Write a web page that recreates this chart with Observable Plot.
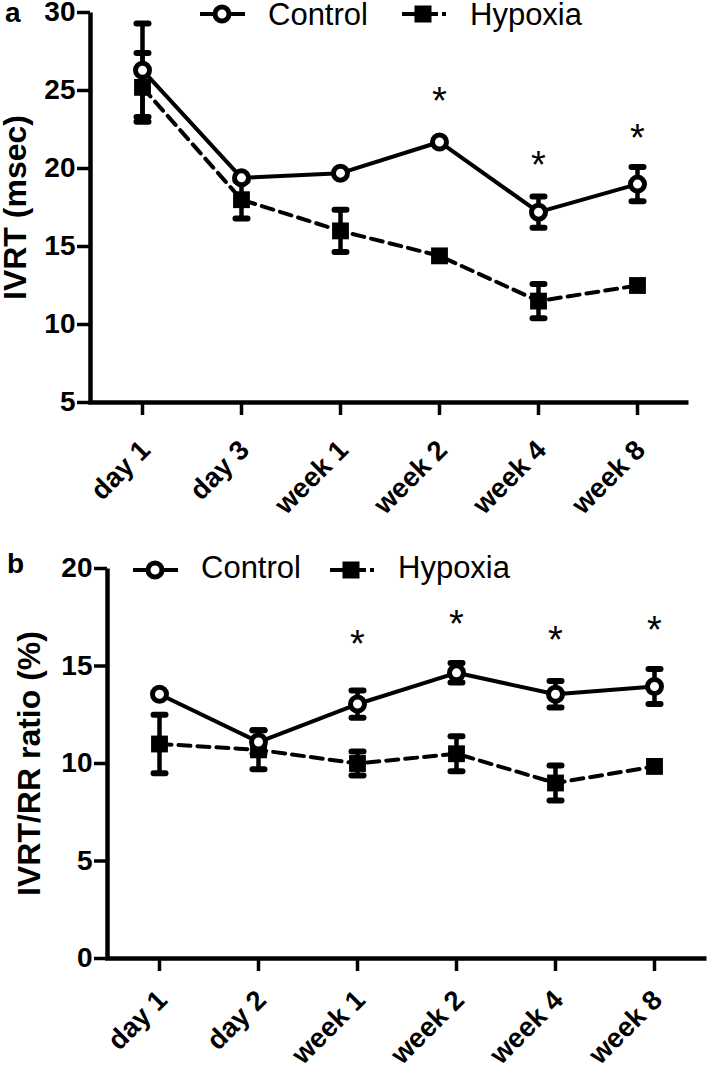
<!DOCTYPE html>
<html><head><meta charset="utf-8">
<script src="https://cdn.jsdelivr.net/npm/d3@7"></script>
<script src="https://cdn.jsdelivr.net/npm/@observablehq/plot@0.6"></script>
<style>
body{margin:0;background:#fff;font-family:"Liberation Sans",Arial,sans-serif;}
#page{position:relative;width:709px;height:1067px;overflow:hidden;background:#fff;}
.panel{position:absolute;left:0;}
.legend{position:absolute;left:0;pointer-events:none;}
</style></head><body><div id="page"></div>
<script>
// ---- Panel a: IVRT (msec)
const timepointsA = ["day 1", "day 3", "week 1", "week 2", "week 4", "week 8"];
const controlA    = [26.3, 19.4, 19.7, 21.7, 17.2, 19.0];
const controlErrA = [3.0, 0, 0, 0, 1.0, 1.1];
const hypoxiaA    = [25.2, 18.0, 16.0, 14.4, 11.5, 12.5];
const hypoxiaErrA = [2.2, 1.2, 1.35, 0, 1.1, 0];
const starA       = [null, null, null, 24.9, 20.8, 22.5];
const yTicksA     = [5, 10, 15, 20, 25, 30];
const yLabelA     = "IVRT (msec)";

// ---- Panel b: IVRT/RR ratio (%)
const timepointsB = ["day 1", "day 2", "week 1", "week 2", "week 4", "week 8"];
const controlB    = [13.55, 11.1, 13.05, 14.65, 13.55, 13.95];
const controlErrB = [0, 0.6, 0.7, 0.5, 0.68, 0.9];
const hypoxiaB    = [11.0, 10.7, 10.0, 10.5, 9.0, 9.85];
const hypoxiaErrB = [1.5, 1.0, 0.62, 0.9, 0.9, 0];
const starB       = [null, null, 16.6, 17.6, 16.8, 17.3];
const yTicksB     = [0, 5, 10, 15, 20];
const yLabelB     = "IVRT/RR ratio (%)";

const seriesNames = ["Control", "Hypoxia"];
const FONT = '"Liberation Sans", Arial, Helvetica, sans-serif';

function panel(o) {
  const rows = o.cats.map((t, i) => ({t, ctrl: o.ctrl[i], ce: o.ctrlErr[i], hyp: o.hyp[i], he: o.hypErr[i], star: o.stars[i]}));
  const W = 709 - o.marginLeft - o.marginRight;
  const H = o.height - o.marginTop - o.marginBottom;
  const errRows = rows.flatMap(d => [
    ...(d.ce > 0 ? [{t: d.t, m: d.ctrl, e: d.ce}] : []),
    ...(d.he > 0 ? [{t: d.t, m: d.hyp, e: d.he}] : [])
  ]);
  const caps = errRows.flatMap(d => [{t: d.t, y: d.m + d.e}, {t: d.t, y: d.m - d.e}]);
  const capSymbol = {draw(ctx) { ctx.moveTo(-6, 0); ctx.lineTo(6, 0); }};
  return Plot.plot({
    width: 709, height: o.height,
    marginLeft: o.marginLeft, marginRight: o.marginRight, marginTop: o.marginTop, marginBottom: o.marginBottom,
    style: {fontFamily: FONT, background: "white", overflow: "visible", color: "#000"},
    x: {type: "point", domain: o.cats, padding: 0.5},
    y: {domain: o.yDomain},
    marks: [
      Plot.frame({stroke: "#000", strokeWidth: 4.5, strokeDasharray: `0,${W + H},${W + H}`}),
      Plot.axisY(o.yTicks, {tickSize: 13, tickPadding: 2, strokeWidth: 3.5, stroke: "#000", fill: "#000",
        fontSize: 28, fontWeight: "bold", label: null}),
      Plot.axisX({tickSize: 13, strokeWidth: 3.5, stroke: "#000", fill: "none", label: null}),
      Plot.text(o.cats, {x: d => d, frameAnchor: "bottom", rotate: -45, textAnchor: "end", lineAnchor: "middle",
        dx: 3, dy: o.tickDy, fontSize: 27.5, fontWeight: "bold", fill: "#000"}),
      Plot.text([o.yLabel], {text: d => d, frameAnchor: "left", textAnchor: "middle", lineAnchor: "middle",
        rotate: -90, dx: o.labelDx, fontSize: 32, fontWeight: "bold", fill: "#000"}),
      Plot.line(rows, {x: "t", y: "hyp", stroke: "#000", strokeWidth: 4, strokeDasharray: "12,7"}),
      Plot.line(rows, {x: "t", y: "ctrl", stroke: "#000", strokeWidth: 4}),
      Plot.ruleX(errRows, {x: "t", y1: d => d.m - d.e, y2: d => d.m + d.e, stroke: "#000", strokeWidth: 4.5}),
      Plot.dot(caps, {x: "t", y: "y", symbol: capSymbol, stroke: "#000", fill: "none", strokeWidth: 6, strokeLinecap: "round"}),
      Plot.dot(rows, {x: "t", y: "hyp", symbol: "square", r: 9.5, fill: "#000", stroke: "none"}),
      Plot.dot(rows, {x: "t", y: "ctrl", r: 7, fill: "#fff", stroke: "#000", strokeWidth: 5}),
      Plot.text(rows.filter(d => d.star != null), {x: "t", y: "star", text: () => "*", fontSize: 38, dy: 9.7, fill: "#000"})
    ]
  });
}

function legend(o) {
  const ns = "http://www.w3.org/2000/svg";
  const svg = document.createElementNS(ns, "svg");
  svg.setAttribute("class", "legend");
  svg.setAttribute("width", 709); svg.setAttribute("height", 60);
  svg.style.top = o.top + "px";
  svg.style.fontFamily = FONT;
  const add = (tag, attrs, text) => {
    const el = document.createElementNS(ns, tag);
    for (const k in attrs) el.setAttribute(k, attrs[k]);
    if (text) el.textContent = text;
    svg.appendChild(el); return el;
  };
  add("text", {x: o.tagX, y: o.tagY, "font-size": 28, "font-weight": "bold"}, o.tag);
  // Control
  const c = o.ctrlX, y = o.symY;
  add("line", {x1: c, x2: c + 45, y1: y, y2: y, stroke: "#000", "stroke-width": 4});
  add("circle", {cx: c + 22, cy: y, r: 7, fill: "#fff", stroke: "#000", "stroke-width": 5});
  add("text", {x: c + 68, y: o.textY, "font-size": 31}, seriesNames[0]);
  // Hypoxia
  const h = o.hypX;
  add("line", {x1: h, x2: h + 36, y1: y, y2: y, stroke: "#000", "stroke-width": 4});
  add("line", {x1: h + 40, x2: h + 44, y1: y, y2: y, stroke: "#000", "stroke-width": 4});
  add("rect", {x: h + 21 - 8.5, y: y - 8.5, width: 17, height: 17, fill: "#000"});
  add("text", {x: h + 68, y: o.textY, "font-size": 31}, seriesNames[1]);
  return svg;
}

const page = document.getElementById("page");

const a = panel({cats: timepointsA, ctrl: controlA, ctrlErr: controlErrA, hyp: hypoxiaA, hypErr: hypoxiaErrA,
  stars: starA, yTicks: yTicksA, yDomain: [5, 30], yLabel: yLabelA, labelDx: -75, tickDy: 43,
  height: 530, marginLeft: 90, marginRight: 21, marginTop: 12, marginBottom: 128});
a.classList.add("panel"); a.style.top = "0px";
page.appendChild(a);
page.appendChild(legend({top: 0, tag: "a", tagX: 5, tagY: 22, ctrlX: 200, hypX: 402, symY: 14, textY: 25}));

const b = panel({cats: timepointsB, ctrl: controlB, ctrlErr: controlErrB, hyp: hypoxiaB, hypErr: hypoxiaErrB,
  stars: starB, yTicks: yTicksB, yDomain: [0, 20], yLabel: yLabelB, labelDx: -78, tickDy: 37,
  height: 537, marginLeft: 107, marginRight: 3, marginTop: 38, marginBottom: 109});
b.classList.add("panel"); b.style.top = "530px";
page.appendChild(b);
page.appendChild(legend({top: 530, tag: "b", tagX: 7, tagY: 43, ctrlX: 133, hypX: 330, symY: 40, textY: 48}));
</script></body></html>
